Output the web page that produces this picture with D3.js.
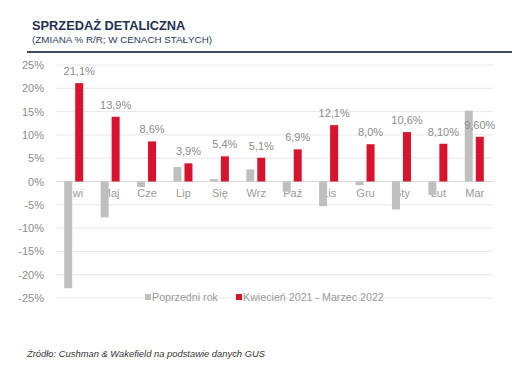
<!DOCTYPE html>
<html>
<head>
<meta charset="utf-8">
<script src="https://cdn.jsdelivr.net/npm/d3@7"></script>
<style>
  body { margin: 0; background: #fff; }
  svg { font-family: "Liberation Sans", Arial, sans-serif; }
</style>
</head>
<body>
<div id="chart"></div>
<script>
// months Apr 2021 - Mar 2022
var months = ["Kwi", "Maj", "Cze", "Lip", "Się", "Wrz", "Paź", "Lis", "Gru", "Sty", "Lut", "Mar"];
var prevYear = [-22.9, -7.7, -1.2, 3.1, 0.5, 2.6, -2.2, -5.3, -0.8, -6.0, -2.9, 15.2];
var current = [21.1, 13.9, 8.6, 3.9, 5.4, 5.1, 6.9, 12.1, 8.0, 10.6, 8.1, 9.6];
var valueLabels = ["21,1%", "13,9%", "8,6%", "3,9%", "5,4%", "5,1%", "6,9%", "12,1%", "8,0%", "10,6%", "8,10%", "9,60%"];
var yTicks = [-25, -20, -15, -10, -5, 0, 5, 10, 15, 20, 25];
var seriesNames = ["Poprzedni rok", "Kwiecień 2021 - Marzec 2022"];

var width = 525, height = 368;
var grey = "#bfbfbf", red = "#d7132e", textGrey = "#8c8c8c";

var svg = d3.select("#chart").append("svg")
  .attr("width", width)
  .attr("height", height);

// header
svg.append("text")
  .attr("x", 32).attr("y", 30)
  .attr("font-size", 12.8).attr("font-weight", "bold")
  .attr("fill", "#1f3252")
  .text("SPRZEDAŻ DETALICZNA");
svg.append("text")
  .attr("x", 32).attr("y", 43)
  .attr("font-size", 9.8)
  .attr("fill", "#2a3a58")
  .text("(ZMIANA % R/R; W CENACH STAŁYCH)");
svg.append("line")
  .attr("x1", 27).attr("x2", 512)
  .attr("y1", 52).attr("y2", 52)
  .attr("stroke", "#3e4c63").attr("stroke-width", 2);

var x = d3.scaleBand().domain(months).range([56, 493]);
var y = d3.scaleLinear().domain([-25, 25]).range([298, 65]);

// gridlines
svg.append("g").selectAll("line")
  .data(yTicks)
  .enter().append("line")
  .attr("x1", 56).attr("x2", 493)
  .attr("y1", d => y(d)).attr("y2", d => y(d))
  .attr("stroke", d => d === 0 ? "#d9d9d9" : "#e8e8e8")
  .attr("stroke-width", 1);

// y axis labels
var yAxis = svg.append("g")
  .attr("transform", "translate(47,0)")
  .call(d3.axisLeft(y).tickValues(yTicks).tickSize(0).tickFormat(d => d + "%"));
yAxis.select(".domain").remove();
yAxis.selectAll("text")
  .attr("font-size", 11)
  .attr("font-family", "Liberation Sans, Arial, sans-serif")
  .attr("fill", textGrey);

// category labels (drawn under bars)
var xAxis = svg.append("g")
  .attr("transform", "translate(0," + y(0) + ")")
  .call(d3.axisBottom(x).tickSize(0).tickPadding(8));
xAxis.select(".domain").remove();
xAxis.selectAll("text")
  .attr("font-size", 11)
  .attr("font-family", "Liberation Sans, Arial, sans-serif")
  .attr("fill", "#9a9a9a");

var barW = 8, gap = 2;

// grey bars
svg.append("g").selectAll("rect")
  .data(prevYear)
  .enter().append("rect")
  .attr("x", (d, i) => x(months[i]) + x.bandwidth() / 2 - gap / 2 - barW - 1)
  .attr("width", barW)
  .attr("y", d => y(Math.max(0, d)))
  .attr("height", d => Math.abs(y(d) - y(0)))
  .attr("fill", grey);

// red bars
svg.append("g").selectAll("rect")
  .data(current)
  .enter().append("rect")
  .attr("x", (d, i) => x(months[i]) + x.bandwidth() / 2 + gap / 2)
  .attr("width", barW)
  .attr("y", d => y(Math.max(0, d)))
  .attr("height", d => Math.abs(y(d) - y(0)))
  .attr("fill", red);

// value labels
svg.append("g").selectAll("text")
  .data(current)
  .enter().append("text")
  .attr("x", (d, i) => x(months[i]) + x.bandwidth() / 2 + gap / 2 + barW / 2)
  .attr("y", d => y(d) - 8)
  .attr("text-anchor", "middle")
  .attr("font-size", 11)
  .attr("fill", textGrey)
  .text((d, i) => valueLabels[i]);

// legend
var legend = svg.append("g");
var legX = [145, 236];
[grey, red].forEach(function(c, i) {
  legend.append("rect")
    .attr("x", legX[i]).attr("y", 294)
    .attr("width", 6).attr("height", 6)
    .attr("fill", c);
  legend.append("text")
    .attr("x", legX[i] + 7).attr("y", 301)
    .attr("font-size", 10.7)
    .attr("fill", "#9a9a9a")
    .text(seriesNames[i]);
});

// source
svg.append("text")
  .attr("x", 27).attr("y", 357)
  .attr("font-size", 9.4)
  .attr("font-style", "italic")
  .attr("fill", "#333")
  .text("Źródło: Cushman & Wakefield na podstawie danych GUS");
</script>
</body>
</html>
